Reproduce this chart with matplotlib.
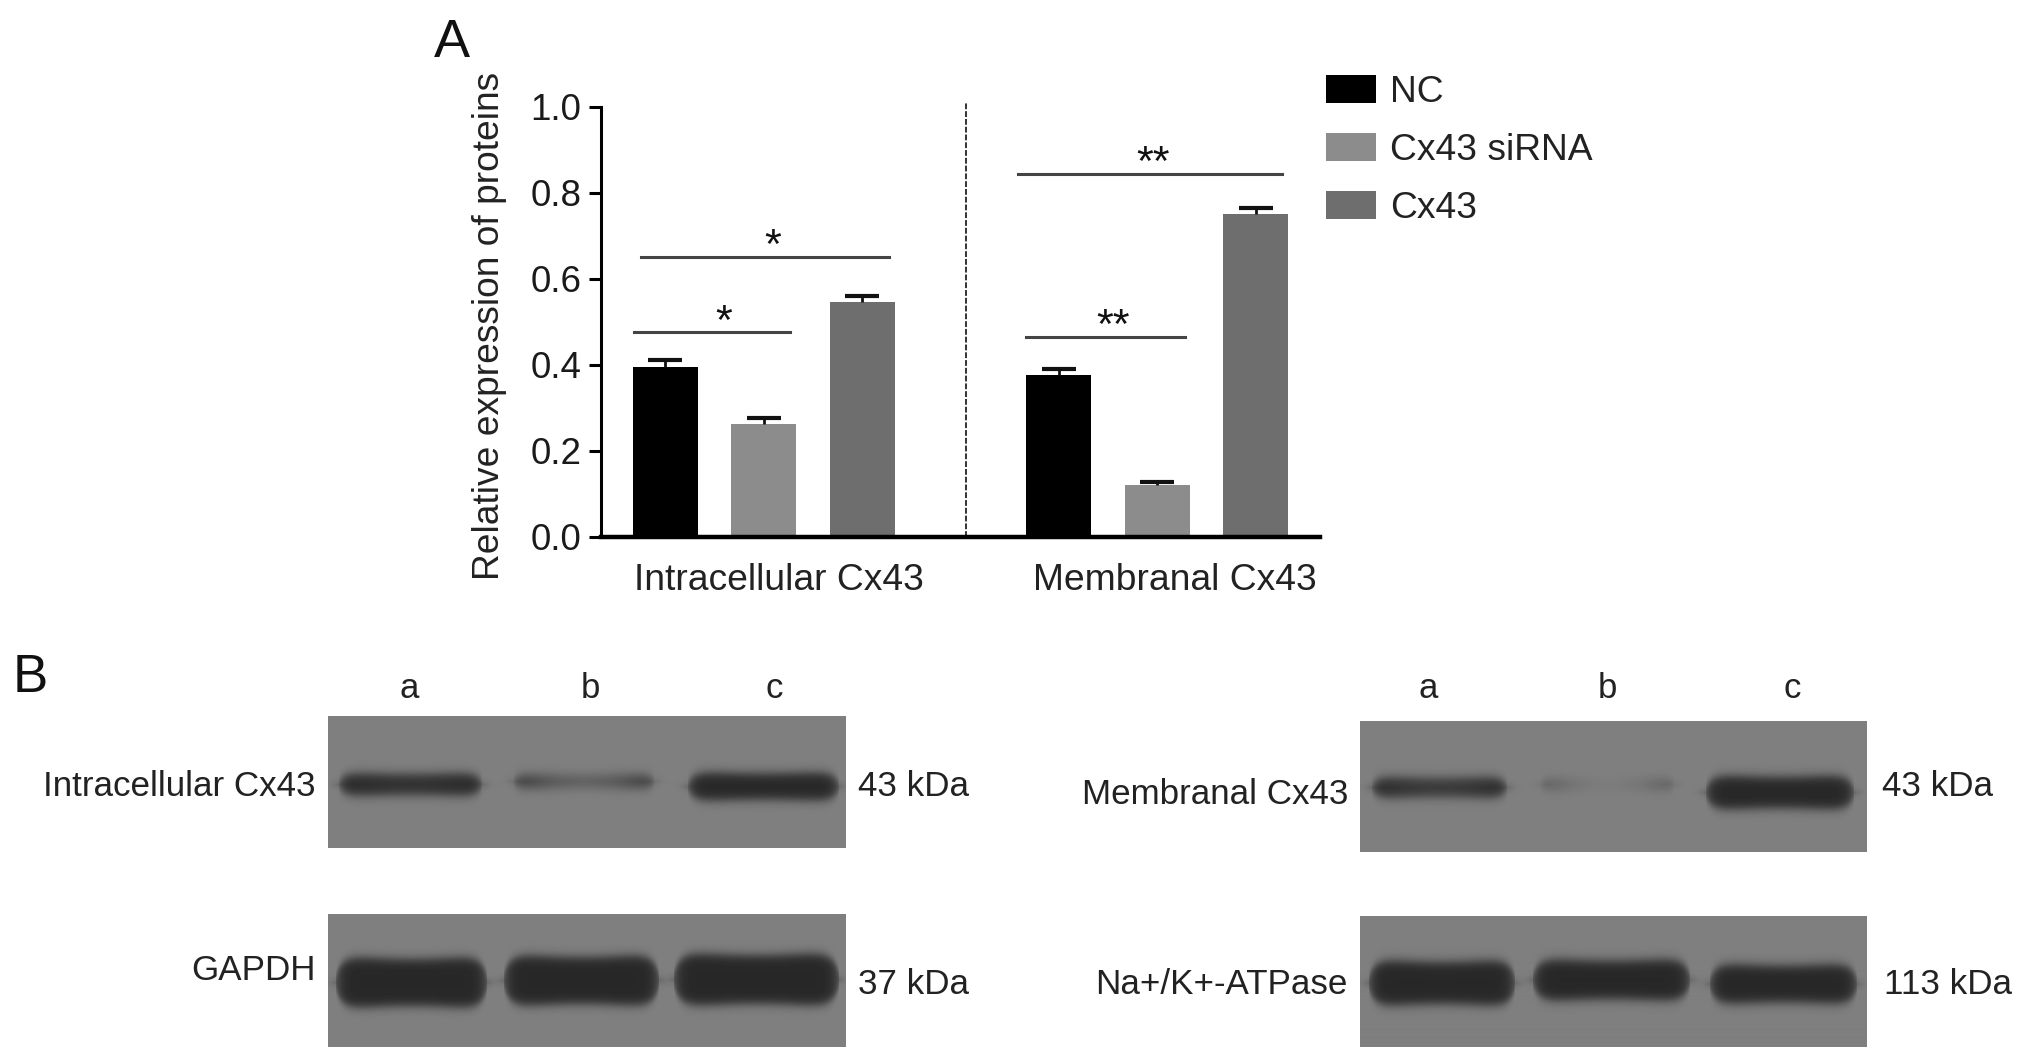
import numpy as np
import matplotlib
matplotlib.use("Agg")
import matplotlib.pyplot as plt

plt.rcParams['font.family'] = ['Liberation Sans', 'DejaVu Sans']

W, H = 2031, 1062

# panel A data
groups = ["Intracellular Cx43", "Membranal Cx43"]
treatments = ["NC", "Cx43 siRNA", "Cx43"]
intracellular = [0.395, 0.262, 0.546]
membranal = [0.376, 0.122, 0.750]
intracellular_err = [0.016, 0.014, 0.014]
membranal_err = [0.015, 0.006, 0.016]
colors = ["#000000", "#8c8c8c", "#6e6e6e"]
yticks = [0.0, 0.2, 0.4, 0.6, 0.8, 1.0]

# significance bars: x from, x to, height, stars
sig_bars = [(-0.24, 2.27, 0.651, "*", 1.09),
            (-0.32, 1.27, 0.476, "*", 0.60),
            (3.58, 6.26, 0.844, "**", 4.95),
            (3.67, 5.28, 0.465, "**", 4.55)]

# panel B blots: box left, right, top, bottom (pixels of the page)
# bands: x0, x1, y centre, half thickness, strength, strength in the middle
blots = [
    ((328, 846, 716, 848), [(338, 482, 784, 12, 1.0, 0.9), (513, 654, 781, 8, 0.8, 0.45), (687, 839, 786, 15, 1.0, 1.0)]),
    ((328, 846, 914, 1047), [(335, 487, 982, 27, 1.0, 1.0), (503, 659, 980, 27, 1.0, 1.0), (673, 839, 979, 28, 1.0, 1.0)]),
    ((1360, 1867, 721, 852), [(1371, 1507, 787, 11, 1.0, 0.8), (1540, 1674, 784, 7, 0.4, 0.12), (1705, 1854, 792, 18, 1.0, 1.0)]),
    ((1360, 1867, 916, 1047), [(1368, 1515, 983, 24, 1.0, 1.0), (1532, 1690, 980, 22, 1.0, 1.0), (1709, 1857, 984, 21, 1.0, 1.0)]),
]
lanes_left = [("a", 409), ("b", 590), ("c", 774)]
lanes_right = [("a", 1428), ("b", 1607), ("c", 1792)]


def fx(x):
    return x / W


def fy(y):
    return 1 - y / H


def draw_blot(box, bands):
    left, right, top, bottom = box
    ax = fig.add_axes([fx(left), fy(bottom), (right - left) / W, (bottom - top) / H])
    X, Y = np.meshgrid(np.arange(left, right), np.arange(top, bottom))
    img = np.full(X.shape, 0.50)
    for x0, x1, yc, hw, strength, mid in bands:
        half = (x1 - x0) / 2
        u = (X - (x0 + x1) / 2) / half
        # rounded ends, slightly fatter towards the sides
        rounded = np.sqrt(np.clip(1 - np.abs(u) ** 7, 0, 1))
        thick = hw * (0.86 + 0.18 * u ** 2) * rounded
        ex = 1 / (1 + np.exp(-(1 - np.abs(u)) * half / 4))
        ey = 1 / (1 + np.exp(-(thick - np.abs(Y - yc)) / 3))
        s = strength * (mid + (1 - mid) * u ** 2)
        img = img - 0.345 * s * ex * ey
    ax.imshow(img, cmap="gray", vmin=0, vmax=1, aspect="auto", interpolation="bilinear")
    ax.axis("off")


fig = plt.figure(figsize=(W / 100, H / 100), dpi=100)

# panel A
ax = fig.add_axes([fx(601), fy(537), (1320 - 601) / W, (537 - 107) / H])
for i in range(3):
    ax.bar([i, i + 4], [intracellular[i], membranal[i]], width=0.66, color=colors[i], label=treatments[i])
    eb = ax.errorbar([i, i + 4], [intracellular[i], membranal[i]],
                     yerr=[[0, 0], [intracellular_err[i], membranal_err[i]]],
                     fmt="none", ecolor="#111111", elinewidth=2, capsize=12, capthick=3)
    eb[1][0].set_visible(False)

ax.set_xlim(-0.65, 6.65)
ax.set_ylim(0, 1)
ax.set_xticks([])
ax.set_yticks(yticks)
ax.set_yticklabels([f"{t:.1f}" for t in yticks], fontsize=26.5, color="#1a1a1a")
ax.tick_params(axis="y", length=9, width=2.2, pad=5)
ax.spines["top"].set_visible(False)
ax.spines["right"].set_visible(False)
ax.spines["left"].set_linewidth(2.2)
ax.spines["bottom"].set_linewidth(3.2)
ax.set_ylabel("Relative expression of proteins", fontsize=26.7, color="#222222")
ax.yaxis.set_label_coords((507 - 601) / (1320 - 601), (537 - 326) / (537 - 107))

# dashed divider between the two groups
ax.plot([3.06, 3.06], [0, 1.012], color="#333333", lw=1.4, ls=(0, (3, 1)), clip_on=False)

for x0, x1, y, stars, sx in sig_bars:
    ax.plot([x0, x1], [y, y], color="#444444", lw=2.2)
    ax.text(sx, y - 0.024, stars, ha="center", va="bottom", fontsize=31, color="#111111")

ax.legend(loc="upper left", bbox_to_anchor=(fx(1326), fy(75)), bbox_transform=fig.transFigure,
          frameon=False, fontsize=26.8, handlelength=1.35, handleheight=0.78, handletextpad=0.38,
          labelspacing=0.62, borderpad=0, borderaxespad=0, labelcolor="#222222")

fig.text(fx(779), fy(580), groups[0], ha="center", va="center", fontsize=26.8, color="#222222")
fig.text(fx(1175), fy(580), groups[1], ha="center", va="center", fontsize=26.8, color="#222222")
fig.text(fx(452), fy(43), "A", ha="center", va="center", fontsize=39, color="#111111")

# panel B
fig.text(fx(30), fy(678), "B", ha="center", va="center", fontsize=38, color="#111111")
for box, bands in blots:
    draw_blot(box, bands)

for name, x in lanes_left + lanes_right:
    fig.text(fx(x), fy(688), name, ha="center", va="center", fontsize=25, color="#222222")

left_labels = [("Intracellular Cx43", 316, 787), ("GAPDH", 316, 971),
               ("Membranal Cx43", 1348, 795), ("Na+/K+-ATPase", 1348, 984)]
right_labels = [("43 kDa", 858, 786), ("37 kDa", 858, 984),
                ("43 kDa", 1882, 786), ("113 kDa", 1884, 984)]
for text, x, y in left_labels:
    fig.text(fx(x), fy(y), text, ha="right", va="center", fontsize=25.2, color="#222222")
for text, x, y in right_labels:
    fig.text(fx(x), fy(y), text, ha="left", va="center", fontsize=25.2, color="#222222")

fig.savefig("out.png", dpi=100)
